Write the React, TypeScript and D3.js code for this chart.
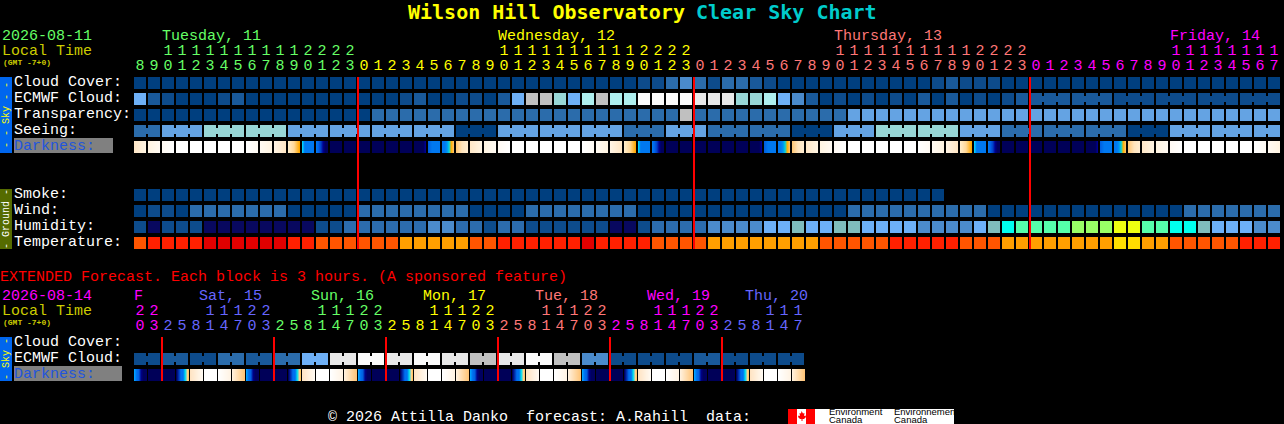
import React, { useEffect, useRef } from 'react';
import * as d3 from 'd3';

const width = 1284;
const height = 424;

// palette indexes
const skyColors = ['#003f7f', '#0d4b8b', '#19599a', '#2b6cab', '#4a8acb', '#64a3e3', '#6eb0f6', '#98d6d6', '#aeeeee', '#c0c0c0', '#e8e8e8', '#fbfbfb'];
const humidityColors = ['#08085f', '#0d4c8c', '#2c6cad', '#4b8bcb', '#6db0f7', '#7fbdbd', '#00ffee', '#55ffaa', '#99ff66', '#eeff11'];
const temperatureColors = ['#e00000', '#ff2000', '#ff5500', '#ff9f00', '#ffdd00'];

const cloudCover = [
  0, 0, 0, 0, 0, 0, 0, 0, 0, 0, 0, 0, 0, 0, 0, 0, 0, 0, 0, 0, 0, 0, 0, 0, 0, 0, 0, 0, 0, 0, 0, 0, 0, 0, 0, 0,
  1, 1, 3, 4, 3, 1, 3, 3, 2, 1, 0, 0, 0, 0, 0, 0, 0, 0, 0, 0, 0, 1, 2, 1, 1, 1, 0, 0,
  0, 0, 0, 0, 0, 0, 0, 0, 0, 0, 0, 0, 0, 0, 0, 0, 0, 0,
];
const ecmwfCloud = [
  6, 2, 1, 0, 0, 0, 1, 2, 0, 0, 0, 0, 0, 0, 0, 0, 0, 0, 0, 1, 2, 0, 0, 1, 1, 0,
  2, 6, 9, 9, 7, 6, 8, 9, 8, 8, 11, 11, 11, 11, 10, 10, 10, 7, 7, 8, 6, 4, 2, 0, 1, 0,
  1, 0, 1, 0, 2, 0, 2, 0, 1, 0, 1, 2,
  2, 2, 1, 1, 1, 1,
];
const ecmwfSpans = [...new Array(64).fill(1), 3, 3, 3, 3, 3, 3];
const transparency = [
  0, 0, 0, 0, 0, 0, 0, 0, 0, 0, 0, 0, 0, 0, 0, 0, 0,
  3, 3, 3, 3, 3, 3, 3, 3, 3, 3, 3, 3, 3, 3, 3, 3, 3, 3, 3, 3, 3, 3, 9.5,
  3, 3, 3, 3, 3, 3, 3, 3, 3, 3, 3,
  5, 5, 5, 5, 5, 5, 5, 5, 5, 5, 5, 5, 5, 5, 5, 5, 5, 5, 5, 5, 5, 5, 5, 5, 5, 5, 5, 5, 5, 5, 5,
].map(d => (d === 9.5 ? 9 : d));
const seeing = [3, 5, 7, 7, 5, 5, 5, 5, 0, 5, 5, 5, 3, 5, 3, 3, 0, 5, 7, 7, 5, 3, 3, 3, 0, 5, 5, 5];
const seeingSpans = [2, 3, 3, 3, 3, 3, 3, 3, 3, 3, 3, 3, 3, 3, 3, 3, 3, 3, 3, 3, 3, 3, 3, 3, 3, 3, 3, 2];
const smoke = new Array(58).fill(0);
const wind = [
  0, 1, 1, 0, 3, 3, 3, 3, 3, 3, 3, 0, 0, 0, 0, 0, 3, 3, 3, 3, 3, 3, 3, 3,
  0, 0, 0, 0, 3, 3, 3, 3, 3, 3, 3, 3, 0, 0, 0, 0, 0, 0, 0, 0, 0, 0, 0, 0, 0, 0, 0,
  3, 3, 3, 3, 3, 3, 3, 3, 3, 3, 0, 0, 0, 0, 0, 0, 0, 0, 0, 0, 0, 0, 0, 0, 3, 3, 3, 3, 3, 3, 3,
];
const humidity = [
  1, 0, 1, 1, 1, 0, 0, 0, 0, 0, 0, 0, 0, 1, 1, 2, 2, 2, 2, 2, 2, 3, 3, 2, 2, 1, 2, 2,
  1, 1, 1, 1, 1, 1, 0, 0, 1, 2, 2, 2, 2, 3, 3, 3, 3, 4, 4, 5, 4, 4, 5, 5,
  4, 4, 4, 4, 3, 3, 3, 3, 4, 5, 6, 7, 7, 7, 7, 8, 8, 8, 9, 9, 7, 7, 6, 6, 5, 4, 4, 4, 3, 3,
];
const temperature = [
  2, 1, 1, 1, 1, 0, 0, 0, 0, 0, 0, 1, 1, 2, 2, 2, 2, 2, 2, 3, 3, 3, 3, 3, 2, 2,
  1, 1, 1, 1, 1, 1, 0, 1, 1, 1, 1, 2, 2, 2, 2, 3, 3, 3, 3, 3, 3, 3, 3, 2, 2, 2,
  2, 2, 1, 1, 1, 1, 1, 2, 2, 2, 3, 3, 3, 3, 3, 3, 3, 3, 4, 4, 3, 3, 2, 2, 2, 2, 2, 1, 1, 1,
];

// darkness blocks are gradients, each level is its left to right colours
const darknessColors = [
  ['#ffffff', '#ffffff'],
  ['#fffaf4', '#ffffff'],
  ['#fff4e2', '#fffaf2'],
  ['#ffe8c8', '#fff4e2'],
  ['#ffc878', '#ffe4bc', '#ffecd0'],
  ['#ffffff', '#fffbf4'],
  ['#fffaf2', '#fff4e2'],
  ['#fff4e4', '#ffe6c4'],
  ['#ffecc8', '#ffd898', '#ffa800'],
  ['#00d0ff', '#0078f0', '#0078f0', '#0078f0', '#0078f0', '#0078f0'],
  ['#0078f0', '#0060e8', '#0040c8', '#000090', '#000060', '#000060'],
  ['#000058', '#000058'],
  ['#000058', '#000058', '#000058', '#000058', '#000058', '#000090'],
  ['#0060e0', '#0078f0', '#0078f0', '#0078f0'],
  ['#0078f0', '#0078f0', '#0090f0', '#00d0e0', '#ffb000', '#ffc060'],
];
const darkness = [
  3, 2, 1, 0, 0, 0, 0, 0, 5, 6, 7, 8, 9, 10, 11, 11, 11, 11, 11, 11, 12, 13, 14, 4,
  3, 2, 1, 0, 0, 0, 0, 0, 5, 6, 7, 8, 9, 10, 11, 11, 11, 11, 11, 11, 12, 13, 14, 4,
  3, 2, 1, 0, 0, 0, 0, 0, 5, 6, 7, 8, 9, 10, 11, 11, 11, 11, 11, 11, 12, 13, 14, 4,
  3, 2, 1, 0, 0, 0, 0, 0, 5, 6,
];
const extendedDarknessColors = [
  ['#ffffff', '#ffffff'],
  ['#00a0ff', '#0070f0', '#0060e0', '#000088', '#000060', '#000060'],
  ['#000058', '#000058'],
  ['#000060', '#0030b0', '#0070f0', '#0070f0', '#00e0f0', '#ffd090'],
  ['#ffe4c4', '#fff8ee'],
  ['#ffffff', '#fff4e6'],
  ['#fff0dc', '#ffc880'],
];
const extendedDarkness = [
  1, 2, 2, 3, 4, 0, 5, 6, 1, 2, 2, 3, 4, 0, 5, 6, 1, 2, 2, 3, 4, 0, 5, 6,
  1, 2, 2, 3, 4, 0, 5, 6, 1, 2, 2, 3, 4, 0, 5, 6, 1, 2, 2, 3, 4, 0, 5, 6,
];
const extendedCloud = [1, 2, 1, 3, 2, 3, 6, 10, 11, 10, 11, 10, 9, 10, 11, 9, 4, 1, 1, 1, 2, 1, 1, 1];
const extendedSpans = new Array(24).fill(2);

const hours = [
  8, 9, 10, 11, 12, 13, 14, 15, 16, 17, 18, 19, 20, 21, 22, 23,
  0, 1, 2, 3, 4, 5, 6, 7, 8, 9, 10, 11, 12, 13, 14, 15, 16, 17, 18, 19, 20, 21, 22, 23,
  0, 1, 2, 3, 4, 5, 6, 7, 8, 9, 10, 11, 12, 13, 14, 15, 16, 17, 18, 19, 20, 21, 22, 23,
  0, 1, 2, 3, 4, 5, 6, 7, 8, 9, 10, 11, 12, 13, 14, 15, 16, 17,
];
const midnights = [16, 40, 64];
const dayLabels = ['Tuesday, 11', 'Wednesday, 12', 'Thursday, 13', 'Friday, 14'];
const dayColors = ['#66ff66', '#ffff00', '#ff7777', '#ff00ff'];
const dayLabelCells = [2, 26, 50, 74];

const extendedHours = [
  20, 23, 2, 5, 8, 11, 14, 17, 20, 23, 2, 5, 8, 11, 14, 17, 20, 23, 2, 5, 8, 11, 14, 17,
  20, 23, 2, 5, 8, 11, 14, 17, 20, 23, 2, 5, 8, 11, 14, 17, 20, 23, 2, 5, 8, 11, 14, 17,
];
const extendedMidnights = [2, 10, 18, 26, 34, 42];
const extendedDayLabels = ['F', 'Sat, 15', 'Sun, 16', 'Mon, 17', 'Tue, 18', 'Wed, 19', 'Thu, 20'];
const extendedDayColors = ['#ff00ff', '#6666ff', '#66ff66', '#ffff00', '#ff7777', '#ff00ff', '#6666ff'];
const extendedDayCells = [0, 4, 12, 20, 28, 36, 43];

const mono = '"Liberation Mono", monospace';

const App: React.FC = () => {
  const svgRef = useRef<SVGSVGElement>(null);

  useEffect(() => {
    if (!svgRef.current) return;
    const svg = d3.select(svgRef.current);
    svg.selectAll('*').remove();

    const cell = 14;
    const blockX = (n: number) =>
      d3.scaleBand<number>().domain(d3.range(n)).range([134, 134 + n * cell - 2]).paddingInner(2 / cell);
    const x = blockX(82);
    const xExt = blockX(48);
    const rowY = d3.scaleLinear().domain([0, 1]).range([77, 93]);
    const rowYExt = d3.scaleLinear().domain([0, 1]).range([337, 353]);

    const text = (
      str: string, tx: number, ty: number, fill: string,
      size = 15, anchor = 'start', family = mono, weight = 'normal',
    ) =>
      svg.append('text')
        .attr('x', tx).attr('y', ty)
        .attr('fill', fill)
        .attr('font-family', family)
        .attr('font-size', size)
        .attr('font-weight', weight)
        .attr('text-anchor', anchor)
        .attr('xml:space', 'preserve')
        .style('white-space', 'pre')
        .text(str);

    // blocks with spans get joined by a small neck between the cells
    const drawRow = (
      scale: d3.ScaleBand<number>, y: number, values: number[], colors: string[], spans?: number[],
    ) => {
      const g = svg.append('g').attr('shape-rendering', 'crispEdges');
      let i = 0;
      values.forEach((v, k) => {
        const span = spans ? spans[k] : 1;
        d3.range(span).forEach(j => {
          g.append('rect')
            .attr('x', scale(i + j) as number).attr('y', y)
            .attr('width', scale.bandwidth()).attr('height', 12)
            .attr('fill', colors[v]);
          if (j < span - 1) {
            g.append('rect')
              .attr('x', (scale(i + j) as number) + scale.bandwidth()).attr('y', y + 3)
              .attr('width', scale.step() - scale.bandwidth()).attr('height', 6)
              .attr('fill', colors[v]);
          }
        });
        i += span;
      });
    };

    const drawDarkness = (
      scale: d3.ScaleBand<number>, y: number, values: number[], colors: string[][],
    ) => {
      const g = svg.append('g').attr('shape-rendering', 'crispEdges');
      values.forEach((v, i) => {
        const color = d3.piecewise(d3.interpolateRgb, colors[v]);
        const px = d3.scaleLinear().domain([0, scale.bandwidth() - 1]).range([0, 1]);
        d3.range(scale.bandwidth()).forEach(p => {
          g.append('rect')
            .attr('x', (scale(i) as number) + p).attr('y', y)
            .attr('width', 1).attr('height', 12)
            .attr('fill', color(px(p)));
        });
      });
    };

    // Title
    text('Wilson Hill Observatory', 408, 19, '#ffff00', 20, 'start', '"DejaVu Sans Mono", monospace', 'bold');
    text('Clear Sky Chart', 696, 19, '#00cccc', 20, 'start', '"DejaVu Sans Mono", monospace', 'bold');

    // Main forecast header
    text('2026-08-11', 2, 40, '#66ff66');
    text('Local Time', 2, 55, '#cccc00');
    text('(GMT -7+0)', 3, 65, '#cccc00', 8, 'start', mono, 'bold');
    dayLabels.forEach((d, i) => text(d, x(dayLabelCells[i]) as number, 40, dayColors[i]));
    let day = 0;
    hours.forEach((h, i) => {
      if (midnights.includes(i)) day += 1;
      const cx = (x(i) as number) + x.bandwidth() / 2;
      if (h >= 10) text(String(Math.floor(h / 10)), cx, 55, dayColors[day], 15, 'middle');
      text(String(h % 10), cx, 70, dayColors[day], 15, 'middle');
    });

    // Main forecast blocks
    drawRow(x, rowY(0), cloudCover, skyColors);
    drawRow(x, rowY(1), ecmwfCloud, skyColors, ecmwfSpans);
    drawRow(x, rowY(2), transparency, skyColors);
    drawRow(x, rowY(3), seeing, skyColors, seeingSpans);
    drawDarkness(x, rowY(4), darkness, darknessColors);
    drawRow(x, rowY(7), smoke, skyColors);
    drawRow(x, rowY(8), wind, skyColors);
    drawRow(x, rowY(9), humidity, humidityColors);
    drawRow(x, rowY(10), temperature, temperatureColors);

    midnights.forEach(m => {
      svg.append('rect')
        .attr('x', (x(m) as number) - 1).attr('y', rowY(0))
        .attr('width', 2).attr('height', rowY(10) + 12 - rowY(0))
        .attr('fill', '#ff0000').attr('shape-rendering', 'crispEdges');
    });

    // Row labels
    svg.append('rect').attr('x', 14).attr('y', 138).attr('width', 99).attr('height', 15).attr('fill', '#808080');
    ['Cloud Cover:', 'ECMWF Cloud:', 'Transparency:', 'Seeing:'].forEach((d, i) =>
      text(d, 14, rowY(i) + 9, '#ffffff'));
    text('Darkness:', 14, rowY(4) + 9, '#2255dd');
    ['Smoke:', 'Wind:', 'Humidity:', 'Temperature:'].forEach((d, i) =>
      text(d, 14, rowY(i + 7) + 9, '#ffffff'));

    // Side tabs
    const tab = (y0: number, y1: number, fill: string, label: string, color: string) => {
      svg.append('rect').attr('x', 0).attr('y', y0).attr('width', 12).attr('height', y1 - y0).attr('fill', fill);
      text(label, 0, 0, color, 10, 'middle')
        .attr('transform', `translate(9,${(y0 + y1) / 2}) rotate(-90)`);
    };
    tab(77, 153, '#0066ee', '- - Sky - -', '#ffff00');
    tab(189, 249, '#556b00', '- Ground -', '#ffffff');
    tab(337, 381, '#0066ee', '- Sky -', '#ffff00');

    // Extended forecast
    text('EXTENDED Forecast. Each block is 3 hours. (A sponsored feature)', 0, 281, '#ff0000');
    text('2026-08-14', 2, 300, '#ff00ff');
    text('Local Time', 2, 315, '#cccc00');
    text('(GMT -7+0)', 3, 325, '#cccc00', 8, 'start', mono, 'bold');
    extendedDayLabels.forEach((d, i) =>
      text(d, (xExt(extendedDayCells[i]) as number) + (i ? 9 : 0), 300, extendedDayColors[i]));
    let extDay = 0;
    extendedHours.forEach((h, i) => {
      if (extendedMidnights.includes(i)) extDay += 1;
      const cx = (xExt(i) as number) + xExt.bandwidth() / 2;
      if (h >= 10) text(String(Math.floor(h / 10)), cx, 315, extendedDayColors[extDay], 15, 'middle');
      text(String(h % 10), cx, 330, extendedDayColors[extDay], 15, 'middle');
    });

    drawRow(xExt, rowYExt(1), extendedCloud, skyColors, extendedSpans);
    drawDarkness(xExt, rowYExt(2), extendedDarkness, extendedDarknessColors);
    extendedMidnights.forEach(m => {
      svg.append('rect')
        .attr('x', (xExt(m) as number) - 1).attr('y', rowYExt(0))
        .attr('width', 2).attr('height', rowYExt(2) + 12 - rowYExt(0))
        .attr('fill', '#ff0000').attr('shape-rendering', 'crispEdges');
    });

    svg.append('rect').attr('x', 14).attr('y', 366).attr('width', 108).attr('height', 15).attr('fill', '#808080');
    ['Cloud Cover:', 'ECMWF Cloud:'].forEach((d, i) => text(d, 14, rowYExt(i) + 9, '#ffffff'));
    text('Darkness:', 14, rowYExt(2) + 9, '#2255dd');

    // Footer and logo
    text('\u00a9 2026 Attilla Danko  forecast: A.Rahill  data:', 328, 421, '#ffffff');
    svg.append('rect').attr('x', 788).attr('y', 409).attr('width', 166).attr('height', 15).attr('fill', '#ffffff');
    svg.append('rect').attr('x', 788).attr('y', 409).attr('width', 9).attr('height', 15).attr('fill', '#ff0000');
    svg.append('rect').attr('x', 806).attr('y', 409).attr('width', 9).attr('height', 15).attr('fill', '#ff0000');
    svg.append('path')
      .attr('d', 'M801.5 411 l1.5 2.5 1.5-.5 -.5 3 1.5-.5 .5 1.5 -2 2 h-1.5 v2 h-1 v-2 h-1.5 l-2-2 .5-1.5 1.5.5 -.5-3 1.5.5z')
      .attr('fill', '#ff0000');
    const sans = '"Liberation Sans", sans-serif';
    text('Environment', 829, 415, '#000000', 9.5, 'start', sans);
    text('Canada', 829, 423, '#000000', 9.5, 'start', sans);
    text('Environnement', 894, 415, '#000000', 9.5, 'start', sans);
    text('Canada', 894, 423, '#000000', 9.5, 'start', sans);
  }, []);

  return (
    <svg
      ref={svgRef}
      width={width}
      height={height}
      style={{ position: 'fixed', left: 0, top: 0, display: 'block', background: '#000000' }}
    />
  );
};

export default App;
